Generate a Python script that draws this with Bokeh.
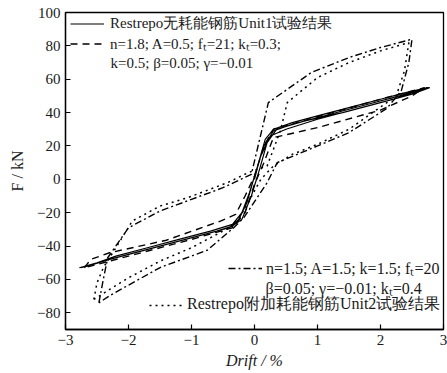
from bokeh.plotting import figure
from bokeh.models import Range1d, FixedTicker, Legend, LegendItem, Label
from bokeh.embed import file_html
from bokeh.resources import INLINE

# ---------------- data ----------------
x_ticks = [-3, -2, -1, 0, 1, 2, 3]
y_ticks = [-80, -60, -40, -20, 0, 20, 40, 60, 80, 100]

# Restrepo Unit1 test (solid)
unit1_x = [0.0, 0.08, 0.17, 0.3, 0.6, 1.0, 1.5, 2.0, 2.4, 2.75, 2.65, 2.3, 1.8, 1.2, 0.6, 0.3,
           0.15, 0.05, -0.08, -0.2, -0.35, -0.7, -1.2, -1.7, -2.2, -2.5, -2.78, -2.65, -2.3,
           -1.8, -1.2, -0.6, -0.35, -0.2, -0.05, 0.08, 0.2, 0.35, 0.8, 1.4, 2.0, 2.5, 2.78,
           2.6, 2.2, 1.6, 1.0, 0.5, 0.25, 0.1, 0.0, -0.12, -0.25, -0.4, -0.9, -1.5, -2.0,
           -2.5, -2.75]
unit1_y = [0, 12, 24, 30, 34, 38, 43, 48, 52, 55, 54, 50, 45, 39, 33, 29,
           20, 8, -8, -20, -27, -31, -36, -41, -46, -50, -53, -52, -48,
           -43, -37, -31, -28, -24, -10, 6, 22, 30, 35, 40, 46, 51, 55,
           53, 48, 42, 36, 30, 26, 14, 2, -14, -24, -29, -34, -40, -45,
           -50, -53]

# model 1: n=1.8; A=0.5; ft=21; kt=0.3; k=0.5; beta=0.05; gamma=-0.01 (dashed)
model1_x = [-2.7, -2.6, -2.3, -1.4, -0.54, -0.3, -0.15, 0.0, 0.15, 0.3, 1.0, 2.0, 2.7,
            2.5, 2.0, 1.0, 0.3, 0.15, 0.0, -0.15, -0.35, -1.0, -2.0, -2.7]
model1_y = [-53, -48, -44, -36.5, -25, -21, -10, 2, 20, 30, 37.5, 48, 55,
            50, 41.5, 31, 25, 10, -3, -20, -29, -36, -46, -53]

# model 2: n=1.5; A=1.5; k=1.5; ft=20; beta=0.05; gamma=-0.01; kt=0.4 (dash-dot)
model2_x = [-2.47, -2.4, -2.33, -2.0, -1.5, -1.0, -0.5, -0.05, 0.22, 0.9, 1.5, 2.0, 2.5,
            2.45, 2.33, 2.1, 1.5, 1.0, 0.36, 0.2, -0.17, -0.33, -0.75, -1.49, -2.29, -2.47]
model2_y = [-74, -60, -47, -29, -19, -12, -5, 3, 46, 64, 73, 79, 84,
            70, 53, 42.5, 28, 20, 10, -2, -23, -29, -42.5, -52.7, -69.5, -74]

# Restrepo Unit2 test (dotted)
unit2_x = [-2.55, -2.5, -2.4, -2.2, -1.94, -1.5, -1.06, -0.43, -0.1, 0.2, 0.41, 0.52, 1.0,
           1.5, 2.0, 2.45, 2.38, 2.25, 1.5, 1.0, 0.6, 0.3, 0.1, -0.1, -0.3, -1.0, -1.5,
           -2.0, -2.3, -2.55]
unit2_y = [-72, -62, -53, -41, -25, -16, -11, -2, 4, 8, 29, 46, 61,
           70, 77, 82, 65, 50, 30, 21, 15, 8, 0, -14, -27, -41, -49,
           -59, -66, -72]

legend_unit1 = "Restrepo无耗能钢筋Unit1试验结果"
legend_m1_a = "n=1.8; A=0.5; fₜ=21; kₜ=0.3;"
legend_m1_b = "k=0.5; β=0.05; γ=−0.01"
legend_m2_a = "n=1.5; A=1.5; k=1.5; fₜ=20"
legend_m2_b = "β=0.05; γ=−0.01; kₜ=0.4"
legend_unit2 = "Restrepo附加耗能钢筋Unit2试验结果"

FONT = "Liberation Serif"

# ---------------- figure ----------------
p = figure(width=447, height=373, output_backend="svg", toolbar_location=None,
           x_range=Range1d(-3, 3), y_range=Range1d(-90, 100),
           min_border_left=65, min_border_right=4, min_border_top=12, min_border_bottom=44)
p.background_fill_color = "white"
p.border_fill_color = "white"
p.outline_line_color = "black"
p.outline_line_width = 1.3
p.grid.visible = False

for ax, ticks in ((p.xaxis[0], x_ticks), (p.yaxis[0], y_ticks)):
    ax.ticker = FixedTicker(ticks=ticks)
    ax.major_label_overrides = {t: str(t).replace("-", "−") for t in ticks}
    ax.axis_line_color = "black"
    ax.axis_line_width = 1.3
    ax.major_tick_in = 5
    ax.major_tick_out = 0
    ax.minor_tick_in = 0
    ax.minor_tick_out = 0
    ax.major_tick_line_color = "black"
    ax.major_tick_line_width = 1.2
    ax.major_label_text_font = FONT
    ax.major_label_text_font_size = "15px"
    ax.major_label_text_color = "#1a1a1a"
    ax.major_label_standoff = 5
    ax.axis_label_text_font = FONT
    ax.axis_label_text_font_size = "16px"
    ax.axis_label_text_color = "#1a1a1a"

p.xaxis.axis_label = "Drift / %"
p.xaxis.axis_label_text_font_style = "italic"
p.xaxis.axis_label_standoff = 4
p.yaxis.axis_label = "F / kN"
p.yaxis.axis_label_text_font_style = "normal"
p.yaxis.axis_label_standoff = 8

r_unit1 = p.line(unit1_x, unit1_y, line_color="black", line_width=1.2)
r_m1 = p.line(model1_x, model1_y, line_color="black", line_width=1.4, line_dash="7 5")
r_m2 = p.line(model2_x, model2_y, line_color="black", line_width=1.4, line_dash="7 3 2 3")
r_unit2 = p.line(unit2_x, unit2_y, line_color="black", line_width=1.5, line_dash="2 4")


def make_legend(items, loc, standoff, size, lh):
    lg = Legend(items=items, location=loc, orientation="vertical",
                label_text_font=FONT, label_text_font_size=size,
                label_text_color="#1a1a1a",
                glyph_width=34, glyph_height=lh, label_height=lh,
                label_standoff=standoff, spacing=0, padding=0, margin=0,
                border_line_color=None, background_fill_alpha=0)
    p.add_layout(lg, "center")
    return lg


make_legend([LegendItem(label=legend_unit1, renderers=[r_unit1]),
             LegendItem(label=legend_m1_a, renderers=[r_m1])], (5, 276), 6, "15px", 17)
make_legend([LegendItem(label=legend_m2_a, renderers=[r_m2])], (163, 50), 4, "16px", 18)
make_legend([LegendItem(label=legend_unit2, renderers=[r_unit2])], (84, 14), 4, "16px", 18)

for txt, sx, sy, size in ((legend_m1_b, 45, 267, "15px"), (legend_m2_b, 200, 41, "16px")):
    p.add_layout(Label(x=sx, y=sy, x_units="screen", y_units="screen", text=txt,
                       text_font=FONT, text_font_size=size, text_color="#1a1a1a",
                       text_baseline="middle", text_align="left"))

open("out.html", "w").write(file_html(p, INLINE))
